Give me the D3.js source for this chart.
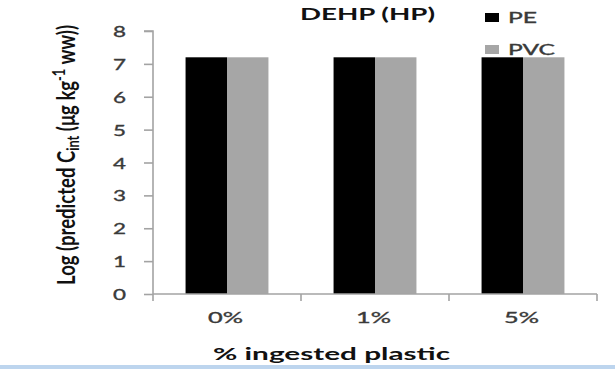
<!DOCTYPE html>
<html>
<head>
<meta charset="utf-8">
<script src="https://cdn.jsdelivr.net/npm/d3@7"></script>
<style>
  html, body { margin: 0; padding: 0; background: #ffffff; }
  svg { display: block; }
  text { font-family: Lato, "Open Sans", sans-serif; }
</style>
</head>
<body>
<svg id="chart" width="615" height="369"></svg>
<script>
// Predicted internal DEHP concentration (log scale) for each ingestion scenario
const categories = ["0%", "1%", "5%"];
const seriesNames = ["PE", "PVC"];
const peValues = [7.2, 7.2, 7.2];
const pvcValues = [7.2, 7.2, 7.2];
const yTicks = [0, 1, 2, 3, 4, 5, 6, 7, 8];

const seriesColors = { PE: "#000000", PVC: "#a6a6a6" };
const axisColor = "#a3a3a3";
const labelColor = "#3a3a3a";

const rows = categories.map((c, i) => ({ cat: c, PE: peValues[i], PVC: pvcValues[i] }));

const svg = d3.select("#chart");

const plot = { left: 153, right: 597, top: 31, bottom: 294 };

const x0 = d3.scaleBand().domain(categories).range([plot.left, plot.right]).padding(0);
const bw = x0.bandwidth();
const groupWidth = bw * 0.56;
const x1 = d3.scaleBand().domain(seriesNames)
  .range([(bw - groupWidth) / 2, (bw + groupWidth) / 2]).padding(0);
const y = d3.scaleLinear().domain([0, 8]).range([plot.bottom, plot.top]);

// Bars
const groups = svg.append("g").selectAll("g")
  .data(rows).join("g")
  .attr("transform", d => `translate(${x0(d.cat)},0)`);

groups.selectAll("rect")
  .data(d => seriesNames.map(s => ({ s, v: d[s] })))
  .join("rect")
  .attr("x", d => x1(d.s))
  .attr("width", x1.bandwidth())
  .attr("y", d => y(d.v))
  .attr("height", d => y(0) - y(d.v))
  .attr("fill", d => seriesColors[d.s]);

// Y axis
const yAxis = svg.append("g")
  .attr("transform", `translate(${plot.left},0)`)
  .call(d3.axisLeft(y).tickValues(yTicks).tickSize(9).tickPadding(0).tickFormat(d3.format("d")));
yAxis.select(".domain").attr("stroke", axisColor).attr("stroke-width", 1.6)
  .attr("d", `M-9,${y(8)}H0V${y(0)}`);
yAxis.selectAll(".tick line").attr("stroke", axisColor).attr("stroke-width", 1.6);
yAxis.selectAll(".tick text")
  .attr("x", -27)
  .attr("dy", "0.37em")
  .attr("text-anchor", "end")
  .attr("fill", labelColor)
  .attr("stroke", labelColor).attr("stroke-width", 0.35)
  .style("font-size", "15px")
  .attr("textLength", 13)
  .attr("lengthAdjust", "spacingAndGlyphs");

// X axis with ticks at category boundaries
const xAxisG = svg.append("g").attr("transform", `translate(0,${plot.bottom})`);
xAxisG.append("line")
  .attr("x1", plot.left).attr("x2", plot.right)
  .attr("stroke", axisColor).attr("stroke-width", 1.6);
const boundaries = categories.map(c => x0(c)).concat([x0(categories[categories.length - 1]) + bw]);
xAxisG.selectAll("line.tk").data(boundaries).join("line")
  .attr("class", "tk")
  .attr("x1", d => d).attr("x2", d => d)
  .attr("y1", 0).attr("y2", 7)
  .attr("stroke", axisColor).attr("stroke-width", 1.6);
xAxisG.selectAll("text").data(categories).join("text")
  .attr("x", d => x0(d) + bw / 2 - 1.5)
  .attr("y", 29)
  .attr("text-anchor", "middle")
  .attr("fill", labelColor)
  .attr("stroke", labelColor).attr("stroke-width", 0.35)
  .style("font-size", "15px")
  .attr("textLength", 35)
  .attr("lengthAdjust", "spacingAndGlyphs")
  .text(d => d);

// Chart title
svg.append("text")
  .attr("x", 367.5).attr("y", 20)
  .attr("text-anchor", "middle")
  .style("font-size", "17px").style("font-weight", "bold")
  .attr("fill", "#111")
  .attr("textLength", 135).attr("lengthAdjust", "spacingAndGlyphs")
  .text("DEHP (HP)");

// Legend
const legendRows = [
  { name: "PE", y: 13, textW: 29 },
  { name: "PVC", y: 45, textW: 47 }
];
const legend = svg.append("g");
legend.selectAll("rect").data(legendRows).join("rect")
  .attr("x", 485).attr("y", d => d.y)
  .attr("width", 14).attr("height", 9)
  .attr("fill", d => seriesColors[d.name]);
legend.selectAll("text").data(legendRows).join("text")
  .attr("x", 508).attr("y", d => d.y + 10)
  .attr("fill", labelColor)
  .attr("stroke", labelColor).attr("stroke-width", 0.35)
  .style("font-size", "15px")
  .attr("textLength", d => d.textW).attr("lengthAdjust", "spacingAndGlyphs")
  .text(d => d.name);

// X axis title
svg.append("text")
  .attr("x", 331.5).attr("y", 360)
  .attr("text-anchor", "middle")
  .style("font-size", "17px").style("font-weight", "bold")
  .attr("fill", "#111")
  .attr("textLength", 237).attr("lengthAdjust", "spacingAndGlyphs")
  .text("% ingested plastic");

// Y axis title, glyphs widened horizontally
const yTitle = svg.append("text")
  .attr("transform", "translate(75,155) scale(1.9,1) rotate(-90)")
  .attr("text-anchor", "middle")
  .style("font-size", "13px").style("font-weight", "bold")
  .attr("fill", "#111")
  .attr("textLength", 260).attr("lengthAdjust", "spacingAndGlyphs");
yTitle.append("tspan").text("Log (predicted C");
yTitle.append("tspan").attr("baseline-shift", "-22%").style("font-size", "9px").text("int");
yTitle.append("tspan").text(" (\u03bcg kg");
yTitle.append("tspan").attr("baseline-shift", "super").style("font-size", "9px").text("-1");
yTitle.append("tspan").text(" ww))");

// Frame rule along the bottom edge
svg.append("rect")
  .attr("x", 0).attr("y", 365).attr("width", 615).attr("height", 4)
  .attr("fill", "#bdd5ee");
</script>
</body>
</html>
